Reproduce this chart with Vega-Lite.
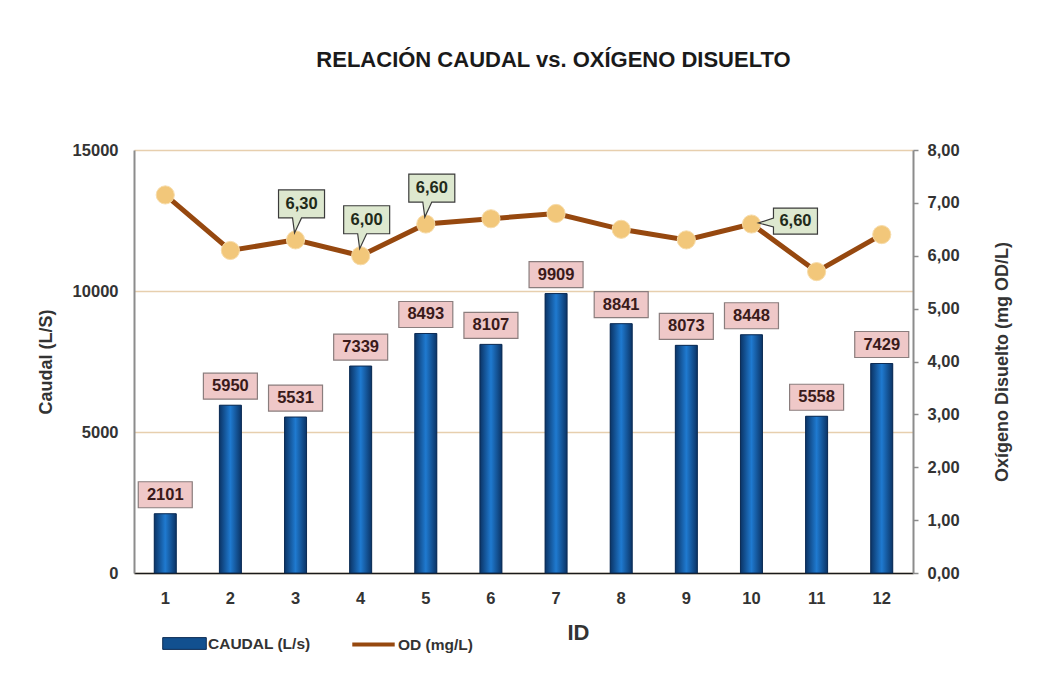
{
  "$schema": "https://vega.github.io/schema/vega-lite/v6.json",
  "width": 779,
  "height": 423,
  "padding": {"left": 37, "top": 49, "right": 10, "bottom": 10},
  "background": "white",
  "title": {
    "text": "RELACIÓN CAUDAL vs. OXÍGENO DISUELTO",
    "font": "Liberation Sans",
    "fontSize": 22,
    "fontWeight": "bold",
    "color": "#1a1a1a",
    "anchor": "middle",
    "dx": 30,
    "offset": 70
  },
  "config": {
    "locale": {"number": {"decimal": ",", "thousands": ".", "grouping": [3], "currency": ["", " €"]}},
    "font": "Liberation Sans",
    "view": {"stroke": null},
    "axis": {"labelFont": "Liberation Sans", "titleFont": "Liberation Sans", "labelColor": "#333333", "titleColor": "#333333", "labelFontWeight": "bold", "titleFontWeight": "bold", "labelFontSize": 16.5, "titleFontSize": 18}
  },
  "data": {
    "values": [
      {"ID": 1, "caudal": 2101, "od": 7.15},
      {"ID": 2, "caudal": 5950, "od": 6.1},
      {"ID": 3, "caudal": 5531, "od": 6.3},
      {"ID": 4, "caudal": 7339, "od": 6.0},
      {"ID": 5, "caudal": 8493, "od": 6.6},
      {"ID": 6, "caudal": 8107, "od": 6.7},
      {"ID": 7, "caudal": 9909, "od": 6.8},
      {"ID": 8, "caudal": 8841, "od": 6.5},
      {"ID": 9, "caudal": 8073, "od": 6.3},
      {"ID": 10, "caudal": 8448, "od": 6.6},
      {"ID": 11, "caudal": 5558, "od": 5.7},
      {"ID": 12, "caudal": 7429, "od": 6.4}
    ]
  },
  "encoding": {
    "x": {
      "field": "ID", "type": "ordinal",
      "scale": {"paddingInner": 0.66, "paddingOuter": 0.31},
      "axis": {
        "title": "ID", "titleFontSize": 22, "titleX": 444, "titlePadding": 16,
        "labelAngle": 0, "labelPadding": 17, "ticks": false,
        "domainColor": "#1a1a1a", "domainWidth": 1.5, "labelColor": "#333333"
      }
    }
  },
  "layer": [
    {
      "encoding": {
        "y": {
          "field": "caudal", "type": "quantitative",
          "scale": {"domain": [0, 15000]},
          "axis": {
            "title": "Caudal (L/S)", "values": [0, 5000, 10000, 15000], "format": "d",
            "grid": true, "gridColor": "#e7cfae", "gridWidth": 1.5,
            "ticks": false, "domainColor": "#8c8c8c", "domainWidth": 2,
            "labelPadding": 16, "titlePadding": 17
          }
        }
      },
      "layer": [
        {
          "mark": {"type": "bar", "width": 22},
          "encoding": {
            "fill": {
              "datum": "CAUDAL (L/s)",
              "scale": {"range": ["#12508f"]},
              "legend": {
                "title": null, "orient": "none", "legendX": 28, "legendY": 471,
                "symbolType": "M-1,-0.27H1V0.27H-1Z", "symbolSize": 1900,
                "symbolStrokeColor": "#0d2c54", "symbolStrokeWidth": 1,
                "labelFont": "Liberation Sans", "labelFontSize": 15.5, "labelFontWeight": "bold", "labelColor": "#333333", "labelOffset": 1
              }
            }
          }
        },
        {
          "mark": {
            "type": "bar", "width": 22, "stroke": "#0d2c54", "strokeWidth": 1,
            "fill": {"gradient": "linear", "x1": 0, "x2": 1, "y1": 0, "y2": 0,
              "stops": [{"offset": 0, "color": "#0b3466"}, {"offset": 0.5, "color": "#1f7ad0"}, {"offset": 1, "color": "#0b3466"}]}
          }
        },
        {
          "mark": {"type": "point", "shape": "M-27,-32H27V-6H-27Z", "size": 4, "filled": true, "fill": "#efc8c8", "stroke": "#8a7d7d", "strokeWidth": 1.2, "opacity": 1}
        },
        {
          "mark": {"type": "text", "yOffset": -19, "font": "Liberation Sans", "fontSize": 16.5, "fontWeight": "bold", "color": "#3a1a1a", "baseline": "middle"},
          "encoding": {"text": {"field": "caudal", "type": "quantitative", "format": "d"}}
        }
      ]
    },
    {
      "encoding": {
        "y": {
          "field": "od", "type": "quantitative",
          "scale": {"domain": [0, 8]},
          "axis": {
            "orient": "right", "title": "Oxígeno Disuelto (mg OD/L)", "titleAngle": 270,
            "values": [0, 1, 2, 3, 4, 5, 6, 7, 8], "format": ".2f",
            "grid": false, "ticks": true, "tickSize": 5, "tickColor": "#8c8c8c", "tickWidth": 1.5,
            "domainColor": "#8c8c8c", "domainWidth": 2, "labelPadding": 9, "titlePadding": 52
          }
        }
      },
      "layer": [
        {
          "mark": {"type": "line", "strokeWidth": 5},
          "encoding": {
            "stroke": {
              "datum": "OD (mg/L)",
              "scale": {"range": ["#96480f"]},
              "legend": {
                "title": null, "orient": "none", "legendX": 216, "legendY": 471,
                "symbolType": "stroke", "symbolSize": 1800, "symbolStrokeWidth": 4,
                "labelFont": "Liberation Sans", "labelFontSize": 15.5, "labelFontWeight": "bold", "labelColor": "#333333", "labelOffset": 1
              }
            }
          }
        },
        {
          "mark": {"type": "point", "shape": "circle", "size": 330, "filled": true, "fill": "#f2c77a", "stroke": "#f7dcaa", "strokeWidth": 1, "opacity": 1}
        },
        {
          "transform": [{"filter": "indexof([3, 4, 5], datum.ID) >= 0"}],
          "layer": [
            {
              "mark": {"type": "point", "shape": "M-17,-50H29V-22H6L-1,-7L-3,-22H-17Z", "size": 4, "filled": true, "fill": "#dde8cf", "stroke": "#3b3b3b", "strokeWidth": 1.2, "opacity": 1}
            },
            {
              "mark": {"type": "text", "dx": 6, "yOffset": -36, "font": "Liberation Sans", "fontSize": 16.5, "fontWeight": "bold", "color": "#1f2a1a", "baseline": "middle"},
              "encoding": {"text": {"field": "od", "type": "quantitative", "format": ".2f"}}
            }
          ]
        },
        {
          "transform": [{"filter": "datum.ID == 10"}],
          "layer": [
            {
              "mark": {"type": "point", "shape": "M22,-16H66V10H22V3L7,-1L22,-6Z", "size": 4, "filled": true, "fill": "#dde8cf", "stroke": "#3b3b3b", "strokeWidth": 1.2, "opacity": 1}
            },
            {
              "mark": {"type": "text", "dx": 44, "yOffset": -3, "font": "Liberation Sans", "fontSize": 16.5, "fontWeight": "bold", "color": "#1f2a1a", "baseline": "middle"},
              "encoding": {"text": {"field": "od", "type": "quantitative", "format": ".2f"}}
            }
          ]
        }
      ]
    }
  ],
  "resolve": {"scale": {"y": "independent"}}
}
